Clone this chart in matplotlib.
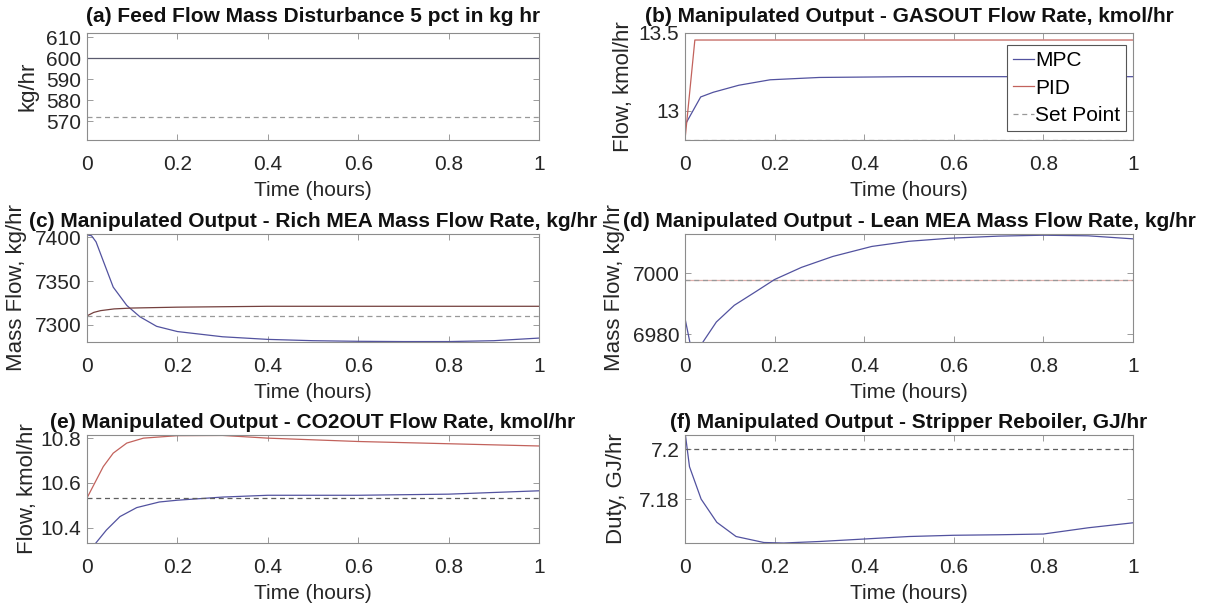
import matplotlib
matplotlib.use("Agg")
import matplotlib.pyplot as plt

plt.rcParams['font.family'] = ['Liberation Sans', 'DejaVu Sans']

# ---------------- data ----------------
x_ticks = [0, 0.2, 0.4, 0.6, 0.8, 1.0]
x_tick_labels = ["0", "0.2", "0.4", "0.6", "0.8", "1"]

titles = [
    "(a) Feed Flow Mass Disturbance 5 pct in kg hr",
    "(b) Manipulated Output - GASOUT Flow Rate, kmol/hr",
    "(c) Manipulated Output - Rich MEA Mass Flow Rate, kg/hr",
    "(d) Manipulated Output - Lean MEA Mass Flow Rate, kg/hr",
    "(e) Manipulated Output - CO2OUT Flow Rate, kmol/hr",
    "(f) Manipulated Output - Stripper Reboiler, GJ/hr",
]
ylabels = ["kg/hr", "Flow, kmol/hr", "Mass Flow, kg/hr",
           "Mass Flow, kg/hr", "Flow, kmol/hr", "Duty, GJ/hr"]

# (a) feed flow disturbance
t_a = [0, 1.0]
feed_a = [600, 600]
sp_a = [572, 572]
yticks_a = [570, 580, 590, 600, 610]

# (b) GASOUT flow
t_b_pid = [0, 0.022, 1.0]
pid_b = [12.816, 13.455, 13.455]
t_b_mpc = [0, 0.035, 0.063, 0.12, 0.19, 0.3, 0.5, 0.8, 1.0]
mpc_b = [12.91, 13.09, 13.12, 13.165, 13.2, 13.215, 13.22, 13.22, 13.22]
t_b_sp = [0, 1.0]
sp_b = [12.816, 12.816]
yticks_b = [13, 13.5]

# (c) Rich MEA mass flow
t_c_pid = [0, 0.015, 0.03, 0.06, 0.1, 0.2, 0.4, 1.0]
pid_c = [7310, 7314, 7316, 7318, 7319, 7320, 7321, 7321]
t_c_mpc = [0, 0.01, 0.02, 0.036, 0.058, 0.088, 0.117, 0.154, 0.2, 0.3,
           0.4, 0.5, 0.6, 0.7, 0.8, 0.9, 1.0]
mpc_c = [7403, 7402, 7395, 7373, 7343, 7322, 7309, 7298, 7292, 7286,
         7283, 7281.5, 7280.8, 7280.5, 7280.5, 7281.5, 7284.5]
t_c_sp = [0, 1.0]
sp_c = [7310, 7310]
yticks_c = [7300, 7350, 7400]

# (d) Lean MEA mass flow
t_d_mpc = [0, 0.012, 0.036, 0.07, 0.11, 0.158, 0.2, 0.26, 0.33, 0.417,
           0.5, 0.59, 0.7, 0.8, 0.9, 1.0]
mpc_d = [6985.2, 6976.5, 6976.5, 6984, 6989.5, 6994, 6998, 7002, 7005.6,
         7008.9, 7010.6, 7011.6, 7012.3, 7012.6, 7012.4, 7011.4]
t_d_pid = [0, 1.0]
pid_d = [6998, 6998]
sp_d = [6998, 6998]
yticks_d = [6980, 7000]

# (e) CO2OUT flow
t_e_pid = [0, 0.036, 0.058, 0.088, 0.125, 0.2, 0.3, 0.4, 0.6, 0.8, 1.0]
pid_e = [10.533, 10.673, 10.733, 10.778, 10.8, 10.811, 10.812, 10.8,
         10.785, 10.775, 10.765]
t_e_mpc = [0, 0.018, 0.043, 0.073, 0.11, 0.16, 0.2, 0.3, 0.4, 0.6, 0.8, 1.0]
mpc_e = [10.328, 10.328, 10.39, 10.45, 10.49, 10.515, 10.523, 10.537,
         10.545, 10.545, 10.55, 10.565]
t_e_sp = [0, 1.0]
sp_e = [10.533, 10.533]
yticks_e = [10.4, 10.6, 10.8]

# (f) Stripper reboiler duty
t_f_mpc = [0, 0.01, 0.036, 0.071, 0.114, 0.176, 0.22, 0.3, 0.4, 0.5, 0.6,
           0.7, 0.8, 0.9, 1.0]
mpc_f = [7.207, 7.193, 7.18, 7.1707, 7.165, 7.1626, 7.1624, 7.163, 7.164,
         7.165, 7.1655, 7.1657, 7.166, 7.1685, 7.1705]
t_f_sp = [0, 1.0]
sp_f = [7.2, 7.2]
yticks_f = [7.18, 7.2]

# ---------------- style ----------------
C_MPC = '#52529f'
C_PID = '#c2625c'
C_SP = '#999999'
C_SP_DARK = '#5e5e5e'
C_AX = '#8c8c8c'
LW = 0.9
TICK_FS = 15
LAB_FS = 15
YLAB_FS = 16
TITLE_FS = 15

fig = plt.figure(figsize=(12.11, 6.04), dpi=100)
W, H = 1211, 604

def make_ax(x0, x1, y0, y1):
    return fig.add_axes([x0 / W, 1 - y1 / H, (x1 - x0) / W, (y1 - y0) / H])

col1 = (87, 539)
col2 = (685, 1133)
rows = [(33, 140), (234, 342), (435, 543)]

axes = [make_ax(*col1, *rows[0]), make_ax(*col2, *rows[0]),
        make_ax(*col1, *rows[1]), make_ax(*col2, *rows[1]),
        make_ax(*col1, *rows[2]), make_ax(*col2, *rows[2])]

ylab_x = [-0.108, -0.114, -0.133, -0.134, -0.108, -0.129]
title_pad = [8, 8, 5, 5, 5, 5]

def style(ax, i, yticks, ylim):
    ax.set_xlim(0, 1)
    ax.set_ylim(*ylim)
    ax.set_xticks(x_ticks)
    ax.set_xticklabels(x_tick_labels)
    ax.set_yticks(yticks)
    ax.set_yticklabels([f"{v:g}" for v in yticks])
    for s in ax.spines.values():
        s.set_color(C_AX)
        s.set_linewidth(0.8)
    ax.tick_params(direction='in', length=4, width=0.6, color=C_AX,
                   top=True, right=True, labelsize=TICK_FS, labelcolor='#262626')
    ax.tick_params(axis='x', pad=11)
    ax.tick_params(axis='y', pad=4)
    ax.set_title(titles[i], fontsize=TITLE_FS, fontweight='bold',
                 pad=title_pad[i], color='#111111')
    ax.set_xlabel("Time (hours)", fontsize=LAB_FS, labelpad=5, color='#262626')
    ax.set_ylabel(ylabels[i], fontsize=YLAB_FS, color='#262626')
    ax.yaxis.set_label_coords(ylab_x[i], 0.5)

# (a)
ax = axes[0]
ax.plot(t_a, feed_a, color='#5a5a6e', lw=LW)
ax.plot(t_a, sp_a, color=C_SP, lw=LW, ls='--', dashes=(4, 3))
style(ax, 0, yticks_a, (561, 612))

# (b)
ax = axes[1]
ax.plot(t_b_mpc, mpc_b, color=C_MPC, lw=LW, label='MPC')
ax.plot(t_b_pid, pid_b, color=C_PID, lw=LW, label='PID')
ax.plot(t_b_sp, sp_b, color=C_SP, lw=LW, ls='--', dashes=(4, 3), label='Set Point')
style(ax, 1, yticks_b, (12.814, 13.5))
leg = ax.legend(loc='upper right', bbox_to_anchor=(0.985, 0.888), fontsize=LAB_FS,
                frameon=True, fancybox=False, framealpha=1, edgecolor='#555555',
                handlelength=1.0, handletextpad=0.05, labelspacing=0.4,
                borderpad=0.3, borderaxespad=0)
leg.get_frame().set_linewidth(0.8)

# (c)
ax = axes[2]
ax.plot(t_c_mpc, mpc_c, color=C_MPC, lw=LW)
ax.plot(t_c_pid, pid_c, color='#74403e', lw=LW)
ax.plot(t_c_sp, sp_c, color=C_SP, lw=LW, ls='--', dashes=(4, 3))
style(ax, 2, yticks_c, (7280, 7404))

# (d)
ax = axes[3]
ax.plot(t_d_pid, pid_d, color=C_PID, lw=LW, alpha=0.5)
ax.plot(t_d_pid, sp_d, color=C_SP, lw=LW, ls='--', dashes=(4, 3))
ax.plot(t_d_mpc, mpc_d, color=C_MPC, lw=LW)
style(ax, 3, yticks_d, (6977.4, 7013))

# (e)
ax = axes[4]
ax.plot(t_e_mpc, mpc_e, color=C_MPC, lw=LW)
ax.plot(t_e_pid, pid_e, color=C_PID, lw=LW)
ax.plot(t_e_sp, sp_e, color=C_SP_DARK, lw=LW, ls='--', dashes=(4, 3))
style(ax, 4, yticks_e, (10.332, 10.814))

# (f)
ax = axes[5]
ax.plot(t_f_mpc, mpc_f, color=C_MPC, lw=LW)
ax.plot(t_f_sp, sp_f, color=C_SP_DARK, lw=LW, ls='--', dashes=(4, 3))
style(ax, 5, yticks_f, (7.1624, 7.2057))

fig.savefig("out.png", dpi=100, facecolor='white')
